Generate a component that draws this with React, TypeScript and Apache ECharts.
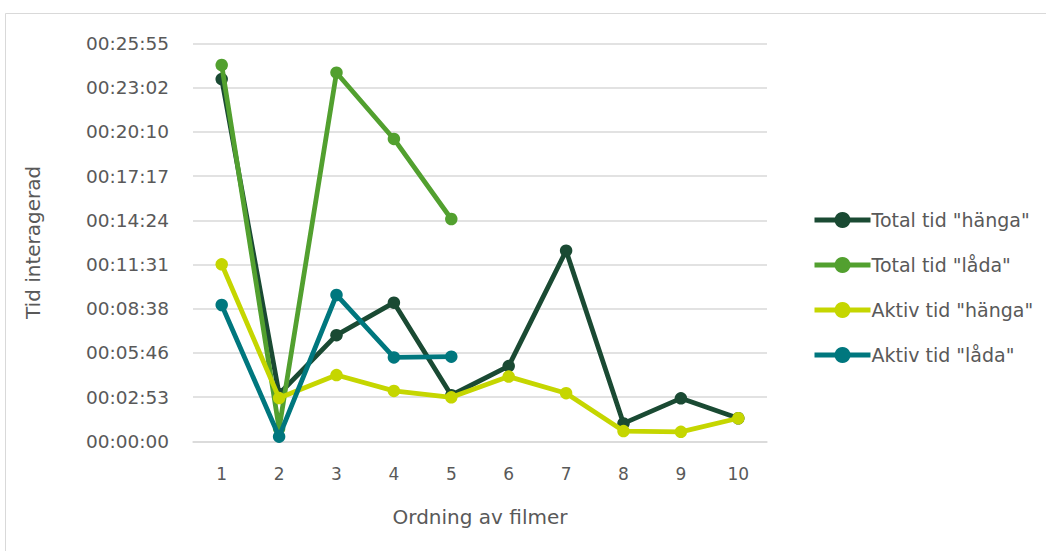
import React, { useEffect, useRef } from "react";
import * as echarts from "echarts";

const categories = ["1", "2", "3", "4", "5", "6", "7", "8", "9", "10"];
// values in seconds
const totalHanga = [1416, 185, 415, 542, 180, 294, 745, 70, 168, 90];
const totalLada = [1471, 50, 1441, 1182, 869, null, null, null, null, null];
const aktivHanga = [692, 169, 259, 197, 172, 253, 188, 40, 37, 90];
const aktivLada = [533, 18, 572, 328, 331, null, null, null, null, null];

const seriesNames = ['Total tid "hänga"', 'Total tid "låda"', 'Aktiv tid "hänga"', 'Aktiv tid "låda"'];
const seriesColors = ["#1A4A33", "#52A02F", "#C5D600", "#00777E"];

const yMin = 0;
const yInterval = 172.8;
const yMax = 1555.2;

function fmt(v: number): string {
  const s = Math.round(v);
  const h = Math.floor(s / 3600);
  const m = Math.floor((s % 3600) / 60);
  const sec = s % 60;
  const p = (n: number) => (n < 10 ? "0" + n : "" + n);
  return p(h) + ":" + p(m) + ":" + p(sec);
}

export default function App() {
  const ref = useRef<HTMLDivElement>(null);
  useEffect(() => {
    if (!ref.current) return;
    const chart = echarts.init(ref.current, null, { renderer: "svg" });
    const font = "'DejaVu Sans', sans-serif";
    const data = [totalHanga, totalLada, aktivHanga, aktivLada];
    chart.setOption({
      animation: false,
      backgroundColor: "#ffffff",
      textStyle: { fontFamily: font, color: "#595959" },
      graphic: [
        {
          type: "rect",
          shape: { x: 5.5, y: 13.5, width: 1100, height: 700 },
          style: { fill: "none", stroke: "#D9D9D9", lineWidth: 1 },
          silent: true,
        },
      ],
      grid: { left: 193, right: 279, top: 43.5, bottom: 109.7, containLabel: false },
      legend: {
        orient: "vertical",
        left: 807,
        top: 205,
        itemGap: 25,
        itemWidth: 56,
        itemHeight: 20,
        lineStyle: { width: 5 },
        textStyle: { fontFamily: font, fontSize: 19, lineHeight: 20, color: "#595959", padding: [0, 0, 0, -4] },
        data: seriesNames,
      },
      xAxis: {
        type: "category",
        data: categories,
        boundaryGap: true,
        name: "Ordning av filmer",
        nameLocation: "middle",
        nameGap: 66,
        nameTextStyle: { fontFamily: font, fontSize: 20, color: "#595959" },
        axisLine: { show: true, lineStyle: { color: "#D9D9D9", width: 1.5 } },
        axisTick: { show: false },
        axisLabel: { fontFamily: font, fontSize: 17, color: "#595959", margin: 24 },
      },
      yAxis: {
        type: "value",
        min: yMin,
        max: yMax,
        interval: yInterval,
        name: "Tid interagerad",
        nameLocation: "middle",
        nameGap: 150,
        nameTextStyle: { fontFamily: font, fontSize: 20, color: "#595959" },
        axisLine: { show: false },
        axisTick: { show: false },
        splitLine: { lineStyle: { color: "#D9D9D9", width: 1.5 } },
        axisLabel: { fontFamily: font, fontSize: 18.5, color: "#595959", margin: 24, formatter: (v: number) => fmt(v) },
      },
      series: seriesNames.map((n, i) => ({
        name: n,
        type: "line",
        data: data[i],
        color: seriesColors[i],
        symbol: "circle",
        symbolSize: 12.5,
        showSymbol: true,
        connectNulls: false,
        lineStyle: { width: 4.8, color: seriesColors[i] },
        itemStyle: { color: seriesColors[i] },
        z: 2 + i,
      })),
    });
    return () => chart.dispose();
  }, []);
  return <div ref={ref} style={{ position: "fixed", left: 0, top: 0, width: 1046, height: 551 }} />;
}
